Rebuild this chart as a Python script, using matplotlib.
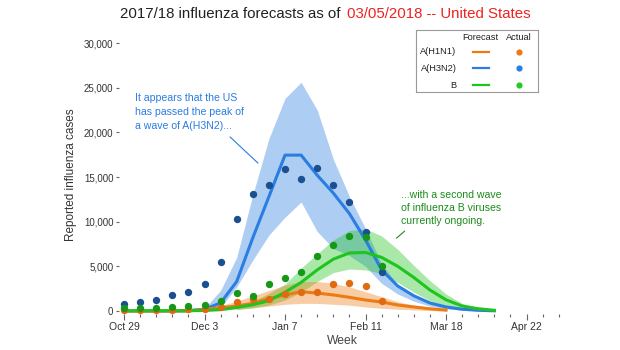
import matplotlib
matplotlib.use('Agg')
import matplotlib.pyplot as plt
from matplotlib.ticker import FuncFormatter

plt.rcParams['font.family'] = ['Liberation Sans', 'DejaVu Sans']

# week index 0 = Oct 29
tick_weeks = [0, 5, 10, 15, 20, 25]
tick_labels = ['Oct 29', 'Dec 3', 'Jan 7', 'Feb 11', 'Mar 18', 'Apr 22']

# actual counts (weeks 0..16)
actual_weeks = list(range(17))
h1n1_actual = [100, 100, 150, 150, 200, 260, 480, 1000, 1300, 1340, 1900, 2160, 2090, 2990, 3100, 2800, 1120]
h3n2_actual = [780, 1000, 1260, 1750, 2160, 2990, 5450, 10260, 13100, 14070, 15900, 14780, 15970, 14100, 12200, 8800, 4330]
b_actual = [300, 350, 380, 400, 600, 670, 1120, 2010, 1710, 3020, 3730, 4400, 6190, 7420, 8430, 8250, 5040]

# forecast lines
h1n1_weeks = list(range(21))
h1n1_fc = [0, 0, 0, 0, 0, 190, 370, 560, 860, 1400, 1790, 2160, 2000, 1800, 1530, 1230, 1000, 670, 450, 250, 100]
h3n2_weeks = list(range(24))
h3n2_fc = [0, 0, 0, 0, 50, 200, 900, 3300, 8200, 12800, 17450, 17450, 15200, 13200, 10900, 7950, 4600, 2800, 1700, 900, 450, 200, 80, 20]
b_weeks = list(range(24))
b_fc = [30, 30, 30, 30, 30, 60, 150, 400, 700, 1150, 2100, 3200, 4600, 5800, 6500, 6550, 6000, 5000, 3750, 2350, 1250, 560, 250, 80]

# forecast intervals
h1n1_band_weeks = list(range(5, 21))
h1n1_lo = [0, 100, 200, 350, 550, 750, 850, 850, 750, 650, 450, 300, 200, 120, 50, 0]
h1n1_hi = [200, 600, 1100, 1700, 2300, 2900, 3300, 3300, 3100, 2700, 2150, 1600, 1050, 650, 300, 100]
h3n2_band_weeks = list(range(5, 24))
h3n2_lo = [0, 400, 2700, 5700, 8500, 10500, 12200, 8900, 7000, 6200, 5000, 3100, 1900, 1100, 550, 250, 80, 0, 0]
h3n2_hi = [300, 2300, 6000, 13000, 19300, 23800, 25600, 22500, 17000, 12800, 9200, 5300, 2900, 1700, 900, 400, 150, 50, 0]
b_band_weeks = list(range(7, 24))
b_lo = [150, 350, 670, 1230, 2100, 3300, 4300, 4700, 4600, 4200, 3200, 2100, 1150, 560, 250, 80, 0]
b_hi = [500, 1100, 1980, 3000, 4800, 6400, 7950, 9000, 9200, 8400, 6900, 5100, 3400, 1900, 850, 350, 0]

orange = '#ee7a12'
orange_dot = '#e06a10'
blue = '#2a7de1'
blue_dot = '#1b4f8f'
green = '#1fc41f'
green_dot = '#169816'

W, H = 620, 350
fig = plt.figure(figsize=(6.2, 3.5), dpi=100)
ax = fig.add_axes([119 / W, 1 - 314 / H, 447 / W, 279 / H])

ax.fill_between(h3n2_band_weeks, h3n2_lo, h3n2_hi, color=blue, alpha=0.38, lw=0)
ax.fill_between(b_band_weeks, b_lo, b_hi, color=green, alpha=0.38, lw=0)
ax.fill_between(h1n1_band_weeks, h1n1_lo, h1n1_hi, color=orange, alpha=0.38, lw=0)

ax.plot(h3n2_weeks, h3n2_fc, color=blue, lw=2.2)
ax.plot(h1n1_weeks, h1n1_fc, color=orange, lw=2.2)
ax.plot(b_weeks, b_fc, color=green, lw=2.2)

ax.scatter(actual_weeks, h3n2_actual, s=28, color=blue_dot, lw=0, zorder=5)
ax.scatter(actual_weeks, h1n1_actual, s=28, color=orange_dot, lw=0, zorder=5)
ax.scatter(actual_weeks, b_actual, s=28, color=green_dot, lw=0, zorder=5)

ax.set_xlim(-0.31, 27.45)
ax.set_ylim(-336, 30896)
for s in ax.spines.values():
    s.set_visible(False)

ax.set_yticks([0, 5000, 10000, 15000, 20000, 25000, 30000])
ax.yaxis.set_major_formatter(FuncFormatter(lambda v, p: '{:,}'.format(int(v))))
ax.set_xticks(tick_weeks)
ax.set_xticklabels(tick_labels)
ax.set_xticks(range(28), minor=True)
ax.tick_params(axis='y', length=2.5, width=0.8, color='#666666', pad=1.5,
               labelsize=7, labelcolor='#333333')
ax.tick_params(axis='x', which='major', length=4.3, width=0.8, color='#666666', pad=1.5,
               labelsize=7.5, labelcolor='#333333')
ax.tick_params(axis='x', which='minor', length=1.8, width=0.8, color='#666666')

ax.set_xlabel('Week', fontsize=8.7, color='#444444', labelpad=2)
ax.set_ylabel('Reported influenza cases', fontsize=8.5, color='#333333', labelpad=5)

# title in two colours
fig.text(341 / W, 1 - 14 / H, '2017/18 influenza forecasts as of', fontsize=10.8,
         color='#222222', ha='right', va='center')
fig.text(347 / W, 1 - 14 / H, '03/05/2018 -- United States', fontsize=10.8,
         color='#ee2222', ha='left', va='center')

# annotations
fig.text(135 / W, 1 - 93 / H, 'It appears that the US\nhas passed the peak of\na wave of A(H3N2)...',
         fontsize=7.6, color=blue, ha='left', va='top', linespacing=1.5)
ax.annotate('', xy=(8.45, 16340), xytext=(6.46, 19700),
            arrowprops=dict(arrowstyle='-', color=blue, lw=0.8))
fig.text(401 / W, 1 - 190 / H, '...with a second wave\nof influenza B viruses\ncurrently ongoing.',
         fontsize=7.6, color='#1b8c1b', ha='left', va='top', linespacing=1.4)
ax.annotate('', xy=(16.79, 7950), xytext=(17.56, 9145),
            arrowprops=dict(arrowstyle='-', color='#1b8c1b', lw=0.8))

# legend box
lax = fig.add_axes([416 / W, 1 - 92 / H, 122 / W, 62 / H])
lax.set_xlim(416, 538)
lax.set_ylim(92, 30)
lax.set_xticks([])
lax.set_yticks([])
for s in lax.spines.values():
    s.set_color('#999999')
    s.set_linewidth(0.8)
lax.text(480, 37.5, 'Forecast', fontsize=6.7, ha='center', va='center', color='#222222')
lax.text(519, 37.5, 'Actual', fontsize=6.7, ha='center', va='center', color='#222222')
legend_rows = [('A(H1N1)', orange, orange), ('A(H3N2)', blue, blue), ('B', green, '#22cc22')]
for i, (name, lc, dc) in enumerate(legend_rows):
    yy = 51.7 + i * 16.7
    lax.text(456.5, yy, name, fontsize=6.7, ha='right', va='center', color='#222222')
    lax.plot([473, 489], [yy, yy], color=lc, lw=1.6)
    lax.scatter([519], [yy], s=20, color=dc, lw=0)

fig.savefig('out.png', dpi=100)
